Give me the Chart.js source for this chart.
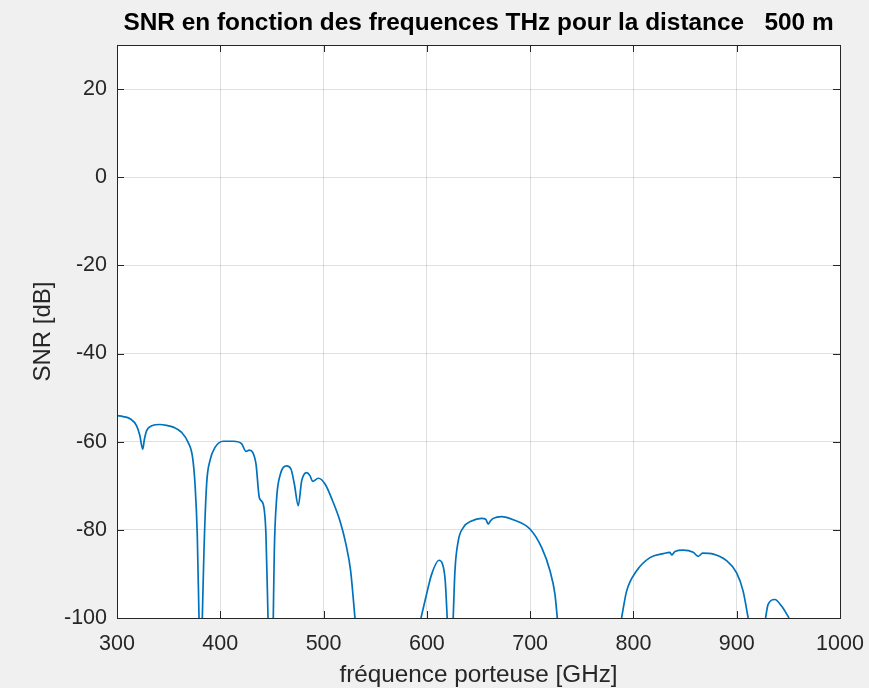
<!DOCTYPE html>
<html>
<head>
<meta charset="utf-8">
<script src="https://cdn.jsdelivr.net/npm/chart.js@4.4.1/dist/chart.umd.min.js"></script>
<style>
    html, body { margin: 0; padding: 0; background: #f0f0f0; }
    #wrap { width: 869px; height: 688px; }
</style>
</head>
<body>
<div id="wrap"><canvas id="snr" width="869" height="688"></canvas></div>
<script>
    'use strict';

    // carrier frequency in GHz (null = curve dropped below -100 dB)
    var freqGHz = [
        300, 306, 312.6, 319, 322, 324.9, 326.5, 328.7, 333.6, 341.6, 348, 354.5, 362.6, 369, 373.2, 375.5, 377.7, 379.4, null,
        382.6, 384.2, 386.8, 390, 394.9, 402.9, 412.6, 420.7, 424.9, 428.1, 431.4, 434.6, 437.8, 441.6, 444.2, 446.2, null,
        451.3, 452.3, 454.6, 457.8, 464.3, 468.4, 471.7, 475.5, 478.8, 483.6, 486.8, 489.4, 494.9, 501.4, 508.7, 515.9, 521.7, 526.2, 530.4, null,
        594.3, 599.7, 604.6, 611.7, 615.2, 617.8, 619.7, null,
        625.5, 627.2, 630.4, 635.2, 643.3, 653, 657, 659.4, 661.5, 664.3, 672.3, 683.6, 699.8, 711.1, 719.2, 724, 726.3, null,
        788.5, 793.4, 803.1, 816, 828.9, 835.3, 837, 840.2, 848.2, 857.9, 862.7, 867, 877.3, 890.1, 899.8, 906.2, 911.1, null,
        927.9, 930.4, 936.9, 943.4, 950.7
    ];

    // SNR in dB, same order as freqGHz
    var snrDb = [
        -54.1, -54.3, -54.8, -56.4, -58.5, -61.7, -59.5, -57.5, -56.4, -56.1, -56.3, -56.7, -57.9, -60.2, -63.6, -69.5, -81, -100, null,
        -100, -84.8, -69.5, -64.3, -61.3, -59.9, -59.9, -60.5, -62.2, -61.9, -62.4, -65.1, -72.7, -74.2, -81, -100, null,
        -100, -84.8, -72.7, -67.7, -65.5, -66.2, -69.6, -74.5, -68.9, -67, -67.7, -69, -68.3, -69.6, -73.4, -78, -83.3, -89.3, -100, null,
        -100, -94.6, -90.1, -86.9, -87.8, -91.6, -100, null,
        -100, -89.3, -82.5, -79.5, -78, -77.4, -77.6, -78.7, -78, -77.4, -77, -77.7, -79.8, -84, -89.3, -94.6, -100, null,
        -100, -93.9, -89.3, -86.3, -85.4, -85.1, -85.7, -84.9, -84.6, -85.1, -86, -85.3, -85.5, -87, -89.7, -93.9, -100, null,
        -100, -96.9, -95.8, -97.3, -100
    ];

    var xTicks = [300, 400, 500, 600, 700, 800, 900, 1000];
    var yTicks = [-100, -80, -60, -40, -20, 0, 20];

    var points = [];
    for (var i = 0; i < freqGHz.length; i++) {
        points.push(freqGHz[i] === null ? { x: NaN, y: null } : { x: freqGHz[i], y: snrDb[i] });
    }

    var axisColor = '#262626';
    var fontFamily = '"Liberation Sans", Arial, Helvetica, sans-serif';

    // grey figure background + white axes
    var backgroundPlugin = {
        id: 'matlabBackground',
        beforeDraw: function(chart) {
            var ctx = chart.ctx;
            var a = chart.chartArea;
            ctx.save();
            ctx.fillStyle = '#f0f0f0';
            ctx.fillRect(0, 0, chart.width, chart.height);
            ctx.fillStyle = '#ffffff';
            ctx.fillRect(a.left, a.top, a.right - a.left, a.bottom - a.top);
            ctx.restore();
        }
    };

    // box around the axes with inward ticks on all four sides
    var boxPlugin = {
        id: 'matlabBox',
        afterDatasetsDraw: function(chart) {
            var ctx = chart.ctx;
            var a = chart.chartArea;
            var xs = chart.scales.x;
            var ys = chart.scales.y;
            var tl = 7;
            ctx.save();
            ctx.strokeStyle = axisColor;
            ctx.lineWidth = 1;
            ctx.beginPath();
            xTicks.forEach(function(v) {
                var px = Math.round(xs.getPixelForValue(v)) + 0.5;
                ctx.moveTo(px, a.bottom);
                ctx.lineTo(px, a.bottom - tl);
                ctx.moveTo(px, a.top);
                ctx.lineTo(px, a.top + tl);
            });
            yTicks.forEach(function(v) {
                var py = Math.round(ys.getPixelForValue(v)) + 0.5;
                ctx.moveTo(a.left, py);
                ctx.lineTo(a.left + tl, py);
                ctx.moveTo(a.right, py);
                ctx.lineTo(a.right - tl, py);
            });
            ctx.stroke();
            ctx.strokeRect(Math.round(a.left) + 0.5, Math.round(a.top) + 0.5,
                Math.round(a.right - a.left), Math.round(a.bottom - a.top));
            ctx.restore();
        }
    };

    var chart = new Chart(document.getElementById('snr'), {
        type: 'line',
        data: {
            datasets: [{
                data: points,
                borderColor: '#0072BD',
                borderWidth: 1.7,
                pointRadius: 0,
                fill: false,
                spanGaps: false,
                cubicInterpolationMode: 'monotone'
            }]
        },
        plugins: [backgroundPlugin, boxPlugin],
        options: {
            responsive: false,
            animation: false,
            layout: { padding: { left: 0, right: 29, top: 0, bottom: 0 } },
            plugins: {
                legend: { display: false },
                tooltip: { enabled: false },
                title: {
                    display: true,
                    fullSize: false,
                    text: 'SNR en fonction des frequences THz pour la distance   500 m',
                    color: '#000000',
                    font: { family: fontFamily, size: 24.4, weight: 'bold', lineHeight: 1.2 },
                    padding: { top: 9, bottom: 6.7 }
                }
            },
            scales: {
                x: {
                    type: 'linear',
                    min: 300,
                    max: 1000,
                    afterFit: function(s) {
                        s.height = 70;
                        s.paddingLeft = 0;
                        s.paddingRight = 0;
                    },
                    afterBuildTicks: function(s) {
                        s.ticks = xTicks.map(function(v) { return { value: v }; });
                    },
                    grid: { color: 'rgba(38,38,38,0.15)', drawTicks: false },
                    border: { display: false },
                    ticks: {
                        color: axisColor,
                        padding: 13,
                        maxRotation: 0,
                        font: { family: fontFamily, size: 21.5 },
                        callback: function(v) { return String(v); }
                    },
                    title: {
                        display: true,
                        text: 'fréquence porteuse [GHz]',
                        color: axisColor,
                        font: { family: fontFamily, size: 24.3, lineHeight: 1.2 },
                        padding: { top: 0, bottom: -2 }
                    }
                },
                y: {
                    type: 'linear',
                    min: -100,
                    max: 30,
                    afterFit: function(s) { s.width = 117; },
                    afterBuildTicks: function(s) {
                        s.ticks = yTicks.map(function(v) { return { value: v }; });
                    },
                    grid: { color: 'rgba(38,38,38,0.15)', drawTicks: false },
                    border: { display: false },
                    ticks: {
                        color: axisColor,
                        padding: 10,
                        font: { family: fontFamily, size: 21.5 },
                        callback: function(v) { return String(v); }
                    },
                    title: {
                        display: true,
                        text: 'SNR [dB]',
                        color: axisColor,
                        font: { family: fontFamily, size: 24, lineHeight: 1.2 },
                        padding: { top: 28.5, bottom: 0 }
                    }
                }
            }
        }
    });
</script>
</body>
</html>
